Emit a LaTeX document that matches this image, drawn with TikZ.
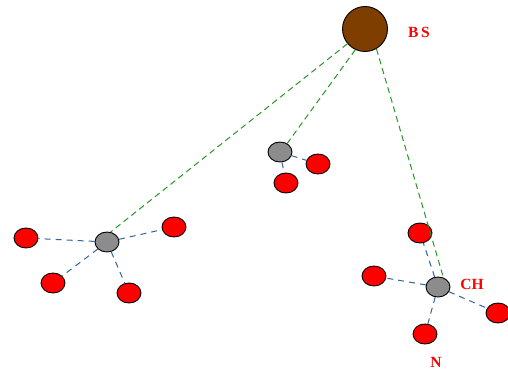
\documentclass[tikz,border=0pt]{standalone}
\usepackage{fontspec}
\setmainfont{Liberation Serif}
\usetikzlibrary{shapes.geometric}
\begin{document}
\begin{tikzpicture}[x=1pt,y=-1pt,
  sensor/.style={ellipse,draw=black,line width=0.9pt,fill=red,minimum width=24pt,minimum height=20pt,inner sep=0pt},
  head/.style={ellipse,draw=black,line width=0.9pt,fill=gray!90,minimum width=24pt,minimum height=20pt,inner sep=0pt},
  station/.style={circle,draw=black,line width=0.9pt,fill=bsbrown,minimum size=45pt,inner sep=0pt},
  uplink/.style={draw=linkgreen,line width=1pt,dash pattern=on 6pt off 4pt},
  member/.style={draw=linkblue,line width=1pt,dash pattern=on 6pt off 5pt},
  lbl/.style={text=red,font=\fontsize{15.5}{18}\selectfont\bfseries,inner sep=0pt}
]
\definecolor{bsbrown}{RGB}{125,62,0}
\definecolor{linkgreen}{RGB}{40,150,40}
\definecolor{linkblue}{RGB}{50,100,160}
\useasboundingbox (0,0) rectangle (508,369);
\fill[white] (0,0) rectangle (508,369);

% base station
\node[station] (bs) at (365,29) {};
\node[lbl] (bslbl) at (419,32) {B\,S};

% cluster heads
\node[head] (ch1) at (107,242) {};
\node[head] (ch2) at (280,152) {};
\node[head] (ch3) at (438,287) {};
\node[lbl] (chlbl) at (472,284) {CH};

% member nodes
\node[sensor] (a1) at (26,238) {};
\node[sensor] (a2) at (174,227) {};
\node[sensor] (a3) at (53,283) {};
\node[sensor] (a4) at (129,293) {};
\node[sensor] (b1) at (318,164) {};
\node[sensor] (b2) at (286,183) {};
\node[sensor] (c1) at (420,233) {};
\node[sensor] (c2) at (374,276) {};
\node[sensor] (c3) at (498,313) {};
\node[sensor] (c4) at (425,334) {};
\node[lbl] (nlbl) at (436,362) {N};

% links from cluster heads to the base station
\draw[uplink] (bs.-140) -- (ch1.70);
\draw[uplink] (bs.-115) -- (ch2.50);
\draw[uplink] (bs.-60) -- (ch3.60);

% links from members to their cluster head
\foreach \m in {a1,a2,a3,a4} \draw[member] (ch1) -- (\m);
\foreach \m in {b1,b2} \draw[member] (ch2) -- (\m);
\foreach \m in {c1,c2,c3,c4} \draw[member] (ch3) -- (\m);
\end{tikzpicture}
\end{document}
